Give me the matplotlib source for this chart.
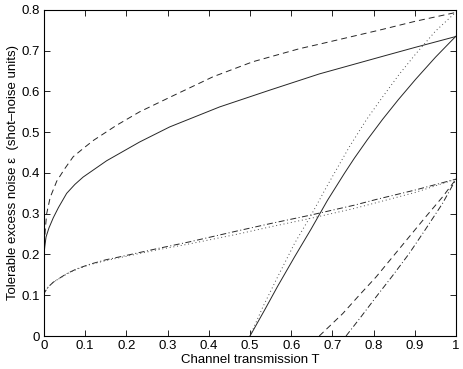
import matplotlib
matplotlib.use('Agg')
import matplotlib.pyplot as plt

plt.rcParams.update({'font.family': ['Liberation Sans', 'DejaVu Sans'], 'font.size': 9.5,
                     'lines.scale_dashes': False})

# upper pair (starting at 0.2)
t_up_dash = [0, 0.003, 0.0065, 0.015, 0.031, 0.05, 0.071, 0.095, 0.12, 0.176, 0.232, 0.31,
             0.41, 0.507, 0.62, 0.668, 0.82, 0.9, 1.0]
e_up_dash = [0.20, 0.26, 0.30, 0.34, 0.38, 0.41, 0.44, 0.46, 0.48, 0.517, 0.55, 0.588,
             0.636, 0.673, 0.705, 0.716, 0.752, 0.772, 0.794]
t_up_solid = [0, 0.002, 0.005, 0.012, 0.0225, 0.035, 0.055, 0.075, 0.095, 0.152, 0.232, 0.305,
              0.426, 0.547, 0.668, 0.821, 0.9, 1.0]
e_up_solid = [0.20, 0.22, 0.243, 0.265, 0.29, 0.315, 0.35, 0.372, 0.39, 0.43, 0.476, 0.513,
              0.562, 0.603, 0.643, 0.686, 0.708, 0.735]

# lower pair (starting at 0.1)
t_low = [0, 0.002, 0.01, 0.0225, 0.055, 0.08, 0.111, 0.15, 0.192, 0.273, 0.353, 0.47,
         0.55, 0.644, 0.753, 0.806, 0.9, 1.0]
e_low_dashdot = [0.10, 0.108, 0.12, 0.132, 0.153, 0.165, 0.176, 0.187, 0.196, 0.214, 0.231, 0.258,
                 0.276, 0.296, 0.321, 0.335, 0.358, 0.385]
e_low_dot = [0.10, 0.108, 0.12, 0.132, 0.152, 0.164, 0.175, 0.185, 0.194, 0.211, 0.226, 0.250,
             0.268, 0.288, 0.313, 0.327, 0.352, 0.385]

# steep curves on the right
t_steep_solid = [0.5, 0.535, 0.567, 0.608, 0.648, 0.688, 0.729, 0.753, 0.785, 0.822, 0.86, 0.902, 0.95, 1.0]
e_steep_solid = [0.0, 0.063, 0.122, 0.194, 0.262, 0.333, 0.399, 0.436, 0.482, 0.532, 0.58, 0.63, 0.684, 0.736]
t_steep_dot = [0.5, 0.531, 0.567, 0.608, 0.648, 0.688, 0.741, 0.782, 0.822, 0.862, 0.902, 0.95, 1.0]
e_steep_dot = [0.0, 0.071, 0.145, 0.227, 0.296, 0.37, 0.464, 0.53, 0.587, 0.642, 0.692, 0.748, 0.795]
t_steep_dash = [0.668, 0.725, 0.765, 0.806, 0.846, 0.886, 0.926, 0.967, 1.0]
e_steep_dash = [0.0, 0.055, 0.10, 0.145, 0.194, 0.243, 0.292, 0.341, 0.385]
t_steep_dashdot = [0.733, 0.77, 0.806, 0.846, 0.886, 0.926, 0.967, 1.0]
e_steep_dashdot = [0.0, 0.048, 0.096, 0.148, 0.202, 0.262, 0.325, 0.385]

xticks = [0, 0.1, 0.2, 0.3, 0.4, 0.5, 0.6, 0.7, 0.8, 0.9, 1]
xticklabels = ['0', '0.1', '0.2', '0.3', '0.4', '0.5', '0.6', '0.7', '0.8', '0.9', '1']
yticks = [0, 0.1, 0.2, 0.3, 0.4, 0.5, 0.6, 0.7, 0.8]
yticklabels = ['0', '0.1', '0.2', '0.3', '0.4', '0.5', '0.6', '0.7', '0.8']

fig = plt.figure(figsize=(4.63, 3.69), dpi=100)
ax = fig.add_axes([0.095, 0.0894, 0.89, 0.8836])

lw = 0.7
dash = (0, (4.3, 2.9))
dashdot = (0, (4.3, 1.8, 0.7, 1.8))
dot = (0, (0.7, 2.0))

ax.plot(t_up_dash, e_up_dash, color='0.15', lw=lw, linestyle=dash)
ax.plot(t_up_solid, e_up_solid, color='0.15', lw=lw)
ax.plot(t_low, e_low_dashdot, color='0.15', lw=lw, linestyle=dashdot)
ax.plot(t_low, e_low_dot, color='0.3', lw=lw, linestyle=dot)
ax.plot(t_steep_solid, e_steep_solid, color='0.15', lw=lw)
ax.plot(t_steep_dot, e_steep_dot, color='0.3', lw=lw, linestyle=dot)
ax.plot(t_steep_dash, e_steep_dash, color='0.15', lw=lw, linestyle=dash)
ax.plot(t_steep_dashdot, e_steep_dashdot, color='0.15', lw=lw, linestyle=dashdot)

ax.set_xlim(0, 1)
ax.set_ylim(0, 0.8)
ax.set_xticks(xticks)
ax.set_xticklabels(xticklabels)
ax.set_yticks(yticks)
ax.set_yticklabels(yticklabels)
ax.tick_params(direction='in', length=4, width=0.6, top=True, right=True, labelsize=9.5, pad=3)
for s in ax.spines.values():
    s.set_linewidth(0.8)

ax.set_xlabel('Channel transmission T', fontsize=9.5, labelpad=1)
ax.set_ylabel('Tolerable excess noise ε  (shot–noise units)', fontsize=9.5, labelpad=2)

fig.savefig('out.png', dpi=100)
